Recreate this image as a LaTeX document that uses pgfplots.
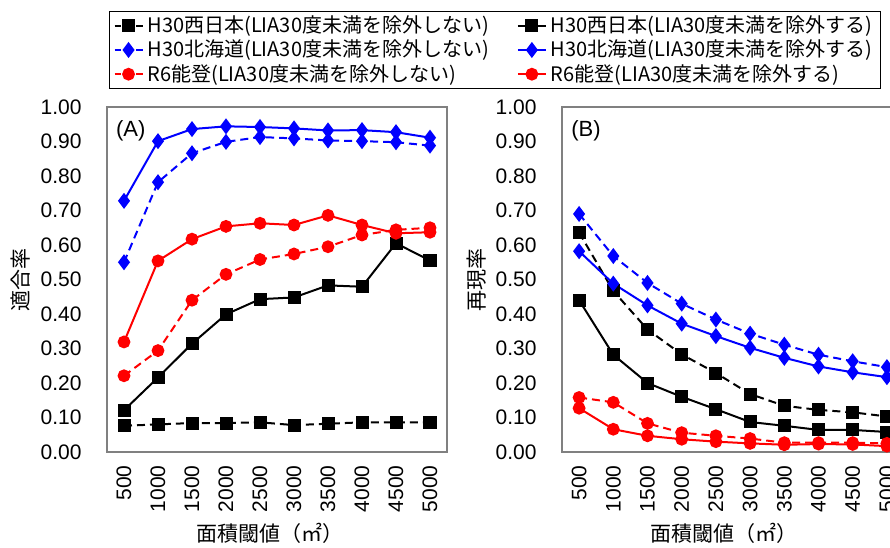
\documentclass[border=0pt]{standalone}
\usepackage{fontspec}
\setmainfont{Liberation Sans}
\newfontfamily\cjk{Noto Sans CJK JP}
\usepackage{pgfplots}
\pgfplotsset{compat=1.18}

\definecolor{axgray}{RGB}{128,128,128}
\definecolor{cblue}{RGB}{0,0,255}
\definecolor{cred}{RGB}{255,0,0}

\pgfplotsset{
  panel/.style={
    scale only axis,
    height=172.5pt,
    xmin=-0.5, xmax=9.5, ymin=0, ymax=1,
    xtick={0,1,2,3,4,5,6,7,8,9},
    xticklabels={500,1000,1500,2000,2500,3000,3500,4000,4500,5000},
    ytick={0,0.1,0.2,0.3,0.4,0.5,0.6,0.7,0.8,0.9,1.0},
    yticklabel style={/pgf/number format/fixed, /pgf/number format/fixed zerofill,
      /pgf/number format/precision=2, /pgf/number format/assume math mode=true},
    major tick length=0pt,
    axis line style={axgray, line width=0.7pt},
    tick label style={font=\fontsize{10.5}{12}\selectfont},
    xticklabel style={yshift=-3.2pt, rotate=90, anchor=east},
    yticklabel style={xshift=-9.2pt},
    every axis y label/.style={at={(axis description cs:-0.255,0.5)}, rotate=90, anchor=center, font=\cjk\fontsize{10.5}{12}\selectfont},
    every axis x label/.style={at={(axis description cs:0.48,-0.235)}, anchor=center, font=\cjk\fontsize{10.5}{12}\selectfont},
    xlabel={面積閾値（㎡）},
  },
  dsh/.style={dash pattern=on 4pt off 2.5pt,
    legend image code/.code={
      \draw[##1, mark=none] (0pt,0pt) -- (3.2pt,0pt);
      \draw[##1, mark=none] (10.8pt,0pt) -- (14pt,0pt);
      \draw[##1, only marks] plot coordinates {(7pt,0pt)};}},
  blk/.style={black, line width=1pt, mark=square*, mark size=2.75pt, mark options={solid}},
  blu/.style={cblue, line width=1pt, mark=diamond*, mark size=3.2pt, mark options={solid}},
  rd/.style={cred, line width=1pt, mark=*, mark size=2.7pt, mark options={solid}},
}

\begin{document}
\begin{tikzpicture}
\useasboundingbox (0,0) rectangle (445pt,-273.5pt);
\clip (0,0) rectangle (445pt,-273.5pt);

% (A) 適合率
\begin{axis}[panel,
  at={(53.5pt,-226pt)}, anchor=south west, width=170pt,
  ylabel={適合率},
  legend columns=2,
  legend style={at={(0.006,1.279)}, anchor=north west, draw=black, line width=0.5pt,
    font=\cjk\fontsize{10}{12}\selectfont, inner xsep=2pt, inner ysep=1.2pt,
    row sep=0pt,
    nodes={inner ysep=1.1pt},
    /tikz/every even column/.append style={column sep=12pt},
    cells={anchor=west}},
  legend image code/.code={\draw[mark repeat=2, mark phase=2, #1] plot coordinates {(0pt,0pt) (7pt,0pt) (14pt,0pt)};},
]
\addplot[blk, dsh] coordinates {(0,0.076) (1,0.080) (2,0.084) (3,0.084) (4,0.086) (5,0.078) (6,0.082) (7,0.086) (8,0.086) (9,0.086)};
\addplot[blk] coordinates {(0,0.121) (1,0.216) (2,0.314) (3,0.399) (4,0.443) (5,0.448) (6,0.483) (7,0.479) (8,0.605) (9,0.555)};
\addplot[blu, dsh] coordinates {(0,0.550) (1,0.782) (2,0.866) (3,0.899) (4,0.913) (5,0.909) (6,0.903) (7,0.901) (8,0.898) (9,0.888)};
\addplot[blu] coordinates {(0,0.728) (1,0.901) (2,0.936) (3,0.944) (4,0.942) (5,0.938) (6,0.932) (7,0.933) (8,0.927) (9,0.911)};
\addplot[rd, dsh] coordinates {(0,0.221) (1,0.294) (2,0.440) (3,0.515) (4,0.558) (5,0.574) (6,0.595) (7,0.629) (8,0.644) (9,0.650)};
\addplot[rd] coordinates {(0,0.319) (1,0.554) (2,0.617) (3,0.654) (4,0.663) (5,0.658) (6,0.686) (7,0.658) (8,0.634) (9,0.637)};
\legend{H30西日本(LIA30度未満を除外しない), H30西日本(LIA30度未満を除外する),
        H30北海道(LIA30度未満を除外しない), H30北海道(LIA30度未満を除外する),
        R6能登(LIA30度未満を除外しない), R6能登(LIA30度未満を除外する)}
\node[font=\fontsize{11}{13}\selectfont] at (rel axis cs:0.07,0.93) {(A)};
\end{axis}

% (B) 再現率
\begin{axis}[panel,
  at={(281pt,-226pt)}, anchor=south west, width=171pt,
  ylabel={再現率},
  every axis y label/.style={at={(axis description cs:-0.249,0.5)}, rotate=90, anchor=center, font=\cjk\fontsize{10.5}{12}\selectfont},
  every axis x label/.style={at={(axis description cs:0.474,-0.235)}, anchor=center, font=\cjk\fontsize{10.5}{12}\selectfont},
]
\addplot[blk, dsh] coordinates {(0,0.636) (1,0.467) (2,0.355) (3,0.283) (4,0.229) (5,0.168) (6,0.134) (7,0.122) (8,0.115) (9,0.103)};
\addplot[blk] coordinates {(0,0.440) (1,0.282) (2,0.200) (3,0.160) (4,0.124) (5,0.087) (6,0.076) (7,0.064) (8,0.064) (9,0.058)};
\addplot[blu, dsh] coordinates {(0,0.690) (1,0.568) (2,0.490) (3,0.430) (4,0.384) (5,0.343) (6,0.311) (7,0.282) (8,0.263) (9,0.246)};
\addplot[blu] coordinates {(0,0.582) (1,0.488) (2,0.425) (3,0.372) (4,0.336) (5,0.302) (6,0.273) (7,0.248) (8,0.231) (9,0.217)};
\addplot[rd, dsh] coordinates {(0,0.158) (1,0.144) (2,0.083) (3,0.056) (4,0.047) (5,0.039) (6,0.027) (7,0.027) (8,0.027) (9,0.025)};
\addplot[rd] coordinates {(0,0.127) (1,0.066) (2,0.047) (3,0.037) (4,0.030) (5,0.025) (6,0.021) (7,0.023) (8,0.022) (9,0.017)};
\node[font=\fontsize{11}{13}\selectfont] at (rel axis cs:0.07,0.93) {(B)};
\end{axis}
\end{tikzpicture}
\end{document}
